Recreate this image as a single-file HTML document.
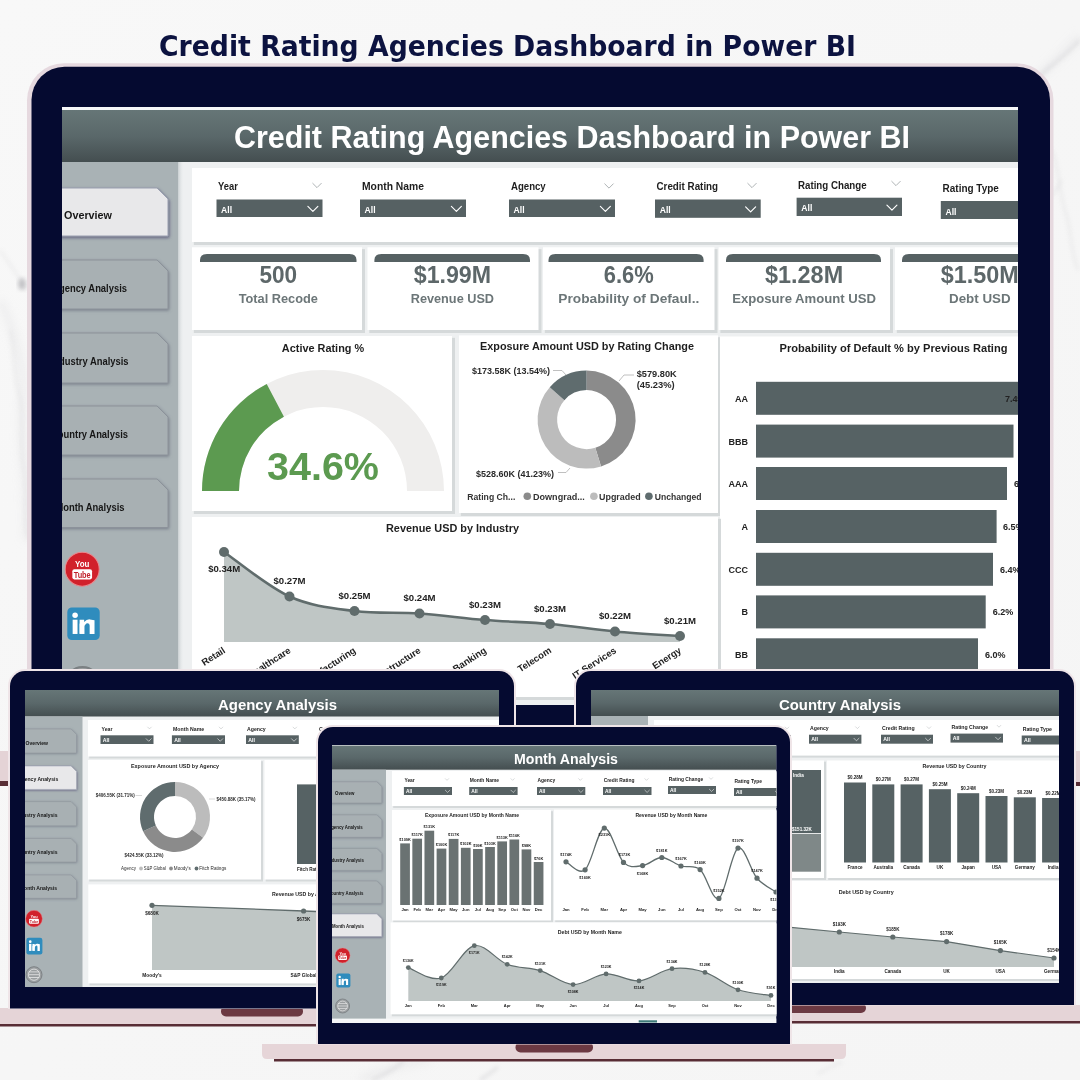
<!DOCTYPE html><html><head><meta charset="utf-8"><title>Credit Rating Agencies Dashboard in Power BI</title>
<style>html,body{margin:0;padding:0;background:#f4f4f5;}body{width:1080px;height:1080px;overflow:hidden;position:relative;}svg{display:block;will-change:transform;}</style></head><body>
<svg width="1080" height="1080" viewBox="0 0 1080 1080">
<defs>
<linearGradient id="hdr" x1="0" y1="0" x2="0" y2="1"><stop offset="0" stop-color="#667677"/><stop offset="0.5" stop-color="#5a686a"/><stop offset="1" stop-color="#444e50"/></linearGradient>
<linearGradient id="bg" x1="0" y1="0" x2="1" y2="1"><stop offset="0" stop-color="#f8f8f8"/><stop offset="0.5" stop-color="#f6f6f6"/><stop offset="1" stop-color="#f5f5f5"/></linearGradient>
<linearGradient id="sbsh" x1="0" y1="0" x2="1" y2="0"><stop offset="0" stop-color="#c9cfd1"/><stop offset="1" stop-color="#eef0f1" stop-opacity="0"/></linearGradient>
<filter id="bshA" x="-10%" y="-30%" width="130%" height="170%"><feDropShadow dx="1" dy="1.5" stdDeviation="1.8" flood-color="#4d4a70" flood-opacity="0.75"/></filter>
<filter id="bshI" x="-10%" y="-30%" width="130%" height="170%"><feDropShadow dx="0.8" dy="1.2" stdDeviation="1.6" flood-color="#5a6070" flood-opacity="0.6"/></filter>
<filter id="bshAs" x="-10%" y="-30%" width="130%" height="170%"><feDropShadow dx="0.5" dy="0.8" stdDeviation="0.9" flood-color="#4d4a70" flood-opacity="0.7"/></filter>
<filter id="bshIs" x="-10%" y="-30%" width="130%" height="170%"><feDropShadow dx="0.4" dy="0.6" stdDeviation="0.8" flood-color="#5a6070" flood-opacity="0.55"/></filter>
<filter id="blur2" x="-20%" y="-20%" width="140%" height="140%"><feGaussianBlur stdDeviation="2"/></filter>
<filter id="blur5" x="-20%" y="-20%" width="140%" height="140%"><feGaussianBlur stdDeviation="5"/></filter>
<clipPath id="cpMon"><rect x="62" y="107" width="956" height="598"/></clipPath>
<clipPath id="cpL"><rect x="25" y="690" width="474" height="297"/></clipPath>
<clipPath id="cpR"><rect x="591" y="690" width="468" height="293"/></clipPath>
<clipPath id="cpC"><rect x="332" y="745" width="444.5" height="278"/></clipPath>
</defs>
<rect x="0" y="0" width="1080" height="1080" fill="url(#bg)" />
<g filter="url(#blur2)" fill="none" stroke="#c4c4c7" stroke-width="1.1" opacity="0.55">
<path d="M0,250 C6,258 12,268 18,276 C22,282 24,286 26,290"/>
<path d="M10,330 C16,350 12,372 20,398 C26,420 18,446 24,470 C28,488 22,510 28,540"/>
<path d="M1080,40 C1072,48 1064,56 1056,62 C1050,67 1046,70 1040,76" stroke="#aeaeb3" stroke-width="1.5"/>
<path d="M1062,180 C1058,186 1056,190 1052,196" stroke="#c0c0c4" stroke-width="1.2"/>
<path d="M1052,150 C1060,170 1058,190 1066,214 C1072,232 1070,250 1078,270"/>
<path d="M404,1061 C396,1068 386,1074 372,1080" stroke="#a8a8ad" stroke-width="1.6"/>
<path d="M498,1067 C492,1072 486,1076 480,1080" stroke="#a8a8ad" stroke-width="1.6"/>
<path d="M818,1074 C826,1068 834,1066 842,1062"/>
</g>
<ellipse cx="22" cy="284" rx="4" ry="6" fill="#9c9ca2" opacity="0.55" filter="url(#blur2)"/>
<g filter="url(#blur5)" fill="none" stroke="#dadadd" stroke-width="5" opacity="0.5">
<path d="M0,300 C14,330 26,360 22,410 C20,450 30,490 26,540"/>
<path d="M1080,36 C1066,52 1052,64 1036,78"/>
<path d="M360,1080 C380,1070 400,1064 430,1060"/>
</g>
<text x="159" y="56" font-family="'DejaVu Sans', 'Liberation Sans', sans-serif" font-size="28.5" font-weight="bold" fill="#0c1340" text-anchor="start" textLength="697" lengthAdjust="spacingAndGlyphs" >Credit Rating Agencies Dashboard in Power BI</text>
<rect x="27" y="63.3" width="1026.5" height="696.7" fill="#e6d9df" rx="37" />
<rect x="31.5" y="66.8" width="1018.5" height="693.2" fill="#050a30" rx="33" />
<g clip-path="url(#cpMon)">
<rect x="62" y="107" width="956" height="598" fill="#eef0f1" />
<rect x="62" y="107" width="956" height="3" fill="#f7f8f9" />
<rect x="62" y="110" width="956" height="52" fill="url(#hdr)" />
<text x="572" y="147.5" font-family="'Liberation Sans', Arial, sans-serif" font-size="30.5" font-weight="bold" fill="#ffffff" text-anchor="middle" textLength="676" lengthAdjust="spacingAndGlyphs" >Credit Rating Agencies Dashboard in Power BI</text>
<rect x="62" y="162" width="116" height="543" fill="#a9b2b5" />
<rect x="178" y="162" width="6" height="543" fill="url(#sbsh)"/>
<polygon points="20,188 157,188 168,199 168,236 20,236" fill="#e8e8ea" stroke="#9a9fb0" stroke-width="1" filter="url(#bshA)"/>
<text x="64" y="219.3" font-family="'Liberation Sans', Arial, sans-serif" font-size="10.8" font-weight="bold" fill="#161616" text-anchor="start" textLength="48.03" lengthAdjust="spacingAndGlyphs" >Overview</text>
<polygon points="20,260 157,260 168,271 168,309 20,309" fill="#a8b0b3" stroke="#8c929a" stroke-width="1" filter="url(#bshI)"/>
<text x="127" y="291.8" font-family="'Liberation Sans', Arial, sans-serif" font-size="10.8" font-weight="bold" fill="#161616" text-anchor="end" textLength="74.85" lengthAdjust="spacingAndGlyphs" >Agency Analysis</text>
<polygon points="20,333 157,333 168,344 168,383 20,383" fill="#a8b0b3" stroke="#8c929a" stroke-width="1" filter="url(#bshI)"/>
<text x="128.6" y="365.3" font-family="'Liberation Sans', Arial, sans-serif" font-size="10.8" font-weight="bold" fill="#161616" text-anchor="end" textLength="77.97" lengthAdjust="spacingAndGlyphs" >Industry Analysis</text>
<polygon points="20,406 157,406 168,417 168,455 20,455" fill="#a8b0b3" stroke="#8c929a" stroke-width="1" filter="url(#bshI)"/>
<text x="128" y="437.8" font-family="'Liberation Sans', Arial, sans-serif" font-size="10.8" font-weight="bold" fill="#161616" text-anchor="end" textLength="76.92" lengthAdjust="spacingAndGlyphs" >Country Analysis</text>
<polygon points="20,479 157,479 168,490 168,527.5 20,527.5" fill="#a8b0b3" stroke="#8c929a" stroke-width="1" filter="url(#bshI)"/>
<text x="124.5" y="510.55" font-family="'Liberation Sans', Arial, sans-serif" font-size="10.8" font-weight="bold" fill="#161616" text-anchor="end" textLength="69.08" lengthAdjust="spacingAndGlyphs" >Month Analysis</text>
<circle cx="82.2" cy="569.2" r="17" fill="#d1212b" stroke="#e98a8f" stroke-width="1.02"/>
<text x="82.2" y="567.16" font-family="'Liberation Sans', Arial, sans-serif" font-size="8.84" font-weight="bold" fill="#ffffff" text-anchor="middle" textLength="14.45" lengthAdjust="spacingAndGlyphs" >You</text>
<rect x="72.34" y="569.2" width="19.72" height="10.2" fill="#ffffff" rx="2.04" />
<text x="82.2" y="577.7" font-family="'Liberation Sans', Arial, sans-serif" font-size="8.5" font-weight="bold" fill="#c0202a" text-anchor="middle" textLength="17" lengthAdjust="spacingAndGlyphs" >Tube</text>
<rect x="67.3" y="607.4" width="32.4" height="32.6" fill="#2f8cbd" rx="4.54" />
<circle cx="75.08" cy="615.18" r="2.75" fill="#ffffff"/>
<rect x="72.65" y="619.71" width="4.86" height="14.26" fill="#ffffff" />
<path d="M79.61,633.97 L79.61,619.71 L84.15,619.71 L84.15,621.98 Q86.74,619.06 89.98,619.39 L94.52,620.36 L94.52,633.97 L89.66,633.97 L89.66,625.54 Q89.66,622.95 86.74,623.28 L84.47,625.54 Z" fill="#ffffff"/>
<rect x="79.61" y="623.6" width="4.86" height="10.37" fill="#ffffff" />
<circle cx="82.5" cy="684" r="17" fill="#9a9ea0" stroke="#7b8083" stroke-width="2.04"/>
<circle cx="82.5" cy="684" r="11.9" fill="none" stroke="#e8e8e8" stroke-width="1.7"/>
<line x1="71.45" y1="678.05" x2="93.55" y2="678.05" stroke="#e8e8e8" stroke-width="1.7"/>
<line x1="71.45" y1="684" x2="93.55" y2="684" stroke="#e8e8e8" stroke-width="1.7"/>
<line x1="71.45" y1="689.95" x2="93.55" y2="689.95" stroke="#e8e8e8" stroke-width="1.7"/>
<rect x="193.8" y="169.8" width="839.2" height="75.2" fill="#d5d9da" />
<rect x="192" y="168" width="838" height="74" fill="#ffffff" />
<rect x="216.5" y="199.5" width="106" height="17.5" fill="#566163" />
<text x="221.05" y="212.62" font-family="'Liberation Sans', Arial, sans-serif" font-size="9.8" font-weight="bold" fill="#ffffff" text-anchor="start" textLength="11" lengthAdjust="spacingAndGlyphs" >All</text>
<polyline points="307.88,206.45 312.88,211.45 317.88,206.45" fill="none" stroke="#ffffff" stroke-width="1.14" stroke-linecap="round" stroke-linejoin="round"/>
<text x="218" y="189.6" font-family="'Liberation Sans', Arial, sans-serif" font-size="10.3" font-weight="bold" fill="#1e1e1e" text-anchor="start" textLength="19.8" lengthAdjust="spacingAndGlyphs" >Year</text>
<polyline points="312.75,183.38 317,187.62 321.25,183.38" fill="none" stroke="#a9aeb0" stroke-width="0.94" stroke-linecap="round" stroke-linejoin="round"/>
<rect x="360" y="199.5" width="106" height="17.5" fill="#566163" />
<text x="364.55" y="212.62" font-family="'Liberation Sans', Arial, sans-serif" font-size="9.8" font-weight="bold" fill="#ffffff" text-anchor="start" textLength="11" lengthAdjust="spacingAndGlyphs" >All</text>
<polyline points="451.38,206.45 456.38,211.45 461.38,206.45" fill="none" stroke="#ffffff" stroke-width="1.14" stroke-linecap="round" stroke-linejoin="round"/>
<text x="362" y="189.6" font-family="'Liberation Sans', Arial, sans-serif" font-size="10.3" font-weight="bold" fill="#1e1e1e" text-anchor="start" textLength="62" lengthAdjust="spacingAndGlyphs" >Month Name</text>
<rect x="509" y="199.5" width="106" height="17.5" fill="#566163" />
<text x="513.55" y="212.62" font-family="'Liberation Sans', Arial, sans-serif" font-size="9.8" font-weight="bold" fill="#ffffff" text-anchor="start" textLength="11" lengthAdjust="spacingAndGlyphs" >All</text>
<polyline points="600.38,206.45 605.38,211.45 610.38,206.45" fill="none" stroke="#ffffff" stroke-width="1.14" stroke-linecap="round" stroke-linejoin="round"/>
<text x="511" y="189.6" font-family="'Liberation Sans', Arial, sans-serif" font-size="10.3" font-weight="bold" fill="#1e1e1e" text-anchor="start" textLength="34.7" lengthAdjust="spacingAndGlyphs" >Agency</text>
<polyline points="604.75,183.88 609,188.12 613.25,183.88" fill="none" stroke="#a9aeb0" stroke-width="0.94" stroke-linecap="round" stroke-linejoin="round"/>
<rect x="655" y="199.5" width="105.7" height="18.3" fill="#566163" />
<text x="659.76" y="213.23" font-family="'Liberation Sans', Arial, sans-serif" font-size="9.8" font-weight="bold" fill="#ffffff" text-anchor="start" textLength="11" lengthAdjust="spacingAndGlyphs" >All</text>
<polyline points="745.63,206.88 750.63,211.88 755.63,206.88" fill="none" stroke="#ffffff" stroke-width="1.19" stroke-linecap="round" stroke-linejoin="round"/>
<text x="656.5" y="189.8" font-family="'Liberation Sans', Arial, sans-serif" font-size="10.3" font-weight="bold" fill="#1e1e1e" text-anchor="start" textLength="61.6" lengthAdjust="spacingAndGlyphs" >Credit Rating</text>
<polyline points="747.75,183.38 752,187.62 756.25,183.38" fill="none" stroke="#a9aeb0" stroke-width="0.94" stroke-linecap="round" stroke-linejoin="round"/>
<rect x="796.6" y="197.7" width="105.4" height="18.3" fill="#566163" />
<text x="801.36" y="211.43" font-family="'Liberation Sans', Arial, sans-serif" font-size="9.8" font-weight="bold" fill="#ffffff" text-anchor="start" textLength="11" lengthAdjust="spacingAndGlyphs" >All</text>
<polyline points="886.93,205.08 891.93,210.08 896.93,205.08" fill="none" stroke="#ffffff" stroke-width="1.19" stroke-linecap="round" stroke-linejoin="round"/>
<text x="798" y="188.5" font-family="'Liberation Sans', Arial, sans-serif" font-size="10.3" font-weight="bold" fill="#1e1e1e" text-anchor="start" textLength="68.6" lengthAdjust="spacingAndGlyphs" >Rating Change</text>
<polyline points="891.75,181.38 896,185.62 900.25,181.38" fill="none" stroke="#a9aeb0" stroke-width="0.94" stroke-linecap="round" stroke-linejoin="round"/>
<rect x="940.8" y="201" width="119.2" height="18" fill="#566163" />
<text x="945.48" y="214.5" font-family="'Liberation Sans', Arial, sans-serif" font-size="9.8" font-weight="bold" fill="#ffffff" text-anchor="start" textLength="11" lengthAdjust="spacingAndGlyphs" >All</text>
<polyline points="1045.1,208.22 1050.1,213.22 1055.1,208.22" fill="none" stroke="#ffffff" stroke-width="1.17" stroke-linecap="round" stroke-linejoin="round"/>
<text x="942.6" y="192.3" font-family="'Liberation Sans', Arial, sans-serif" font-size="10.3" font-weight="bold" fill="#1e1e1e" text-anchor="start" textLength="56.3" lengthAdjust="spacingAndGlyphs" >Rating Type</text>
<rect x="193.8" y="249.1" width="171.2" height="83.9" fill="#d5d9da" />
<rect x="192" y="247.3" width="170" height="82.7" fill="#ffffff" />
<path d="M200,262 L200,260 Q200,254 207,254 L349.5,254 Q356.5,254 356.5,260 L356.5,262 Z" fill="#566163"/>
<text x="278.3" y="283.3" font-family="'Liberation Sans', Arial, sans-serif" font-size="23" font-weight="bold" fill="#5d6769" text-anchor="middle" textLength="37.7" lengthAdjust="spacingAndGlyphs" >500</text>
<text x="278.3" y="303.3" font-family="'Liberation Sans', Arial, sans-serif" font-size="13.6" font-weight="bold" fill="#6c7678" text-anchor="middle" textLength="79.3" lengthAdjust="spacingAndGlyphs" >Total Recode</text>
<rect x="369.3" y="249.1" width="172.2" height="83.9" fill="#d5d9da" />
<rect x="367.5" y="247.3" width="171" height="82.7" fill="#ffffff" />
<path d="M374.4,262 L374.4,260 Q374.4,254 381.4,254 L523,254 Q530,254 530,260 L530,262 Z" fill="#566163"/>
<text x="452.4" y="283.3" font-family="'Liberation Sans', Arial, sans-serif" font-size="23" font-weight="bold" fill="#5d6769" text-anchor="middle" textLength="77.3" lengthAdjust="spacingAndGlyphs" >$1.99M</text>
<text x="452.4" y="303.3" font-family="'Liberation Sans', Arial, sans-serif" font-size="13.6" font-weight="bold" fill="#6c7678" text-anchor="middle" textLength="83.3" lengthAdjust="spacingAndGlyphs" >Revenue USD</text>
<rect x="544.8" y="249.1" width="172.7" height="83.9" fill="#d5d9da" />
<rect x="543" y="247.3" width="171.5" height="82.7" fill="#ffffff" />
<path d="M548.5,262 L548.5,260 Q548.5,254 555.5,254 L696.6,254 Q703.6,254 703.6,260 L703.6,262 Z" fill="#566163"/>
<text x="628.8" y="283.3" font-family="'Liberation Sans', Arial, sans-serif" font-size="23" font-weight="bold" fill="#5d6769" text-anchor="middle" textLength="50" lengthAdjust="spacingAndGlyphs" >6.6%</text>
<text x="628.8" y="303.3" font-family="'Liberation Sans', Arial, sans-serif" font-size="13.6" font-weight="bold" fill="#6c7678" text-anchor="middle" textLength="141" lengthAdjust="spacingAndGlyphs" >Probability of Defaul..</text>
<rect x="720.4" y="249.1" width="172.6" height="83.9" fill="#d5d9da" />
<rect x="718.6" y="247.3" width="171.4" height="82.7" fill="#ffffff" />
<path d="M726,262 L726,260 Q726,254 733,254 L874,254 Q881,254 881,260 L881,262 Z" fill="#566163"/>
<text x="804.1" y="283.3" font-family="'Liberation Sans', Arial, sans-serif" font-size="23" font-weight="bold" fill="#5d6769" text-anchor="middle" textLength="78.1" lengthAdjust="spacingAndGlyphs" >$1.28M</text>
<text x="804.1" y="303.3" font-family="'Liberation Sans', Arial, sans-serif" font-size="13.6" font-weight="bold" fill="#6c7678" text-anchor="middle" textLength="143.9" lengthAdjust="spacingAndGlyphs" >Exposure Amount USD</text>
<rect x="896.8" y="249.1" width="172.2" height="83.9" fill="#d5d9da" />
<rect x="895" y="247.3" width="171" height="82.7" fill="#ffffff" />
<path d="M902,262 L902,260 Q902,254 909,254 L1053,254 Q1060,254 1060,260 L1060,262 Z" fill="#566163"/>
<text x="979.8" y="283.3" font-family="'Liberation Sans', Arial, sans-serif" font-size="23" font-weight="bold" fill="#5d6769" text-anchor="middle" textLength="78.1" lengthAdjust="spacingAndGlyphs" >$1.50M</text>
<text x="979.8" y="303.3" font-family="'Liberation Sans', Arial, sans-serif" font-size="13.6" font-weight="bold" fill="#6c7678" text-anchor="middle" textLength="61.6" lengthAdjust="spacingAndGlyphs" >Debt USD</text>
<rect x="193.8" y="337.8" width="261.2" height="176.2" fill="#d5d9da" />
<rect x="192" y="336" width="260" height="175" fill="#ffffff" />
<text x="323" y="352" font-family="'Liberation Sans', Arial, sans-serif" font-size="10.9" font-weight="bold" fill="#1e1e1e" text-anchor="middle" >Active Rating %</text>
<path d="M202,491 A121,121 0 0 1 444,491 L407,491 A84,84 0 0 0 239,491 Z" fill="#efeeed"/>
<path d="M202,491 A121,121 0 0 1 266.72,383.89 L283.93,416.64 A84,84 0 0 0 239,491 Z" fill="#5c9a50"/>
<text x="323" y="480" font-family="'Liberation Sans', Arial, sans-serif" font-size="39" font-weight="bold" fill="#5c9a50" text-anchor="middle" textLength="112" lengthAdjust="spacingAndGlyphs" >34.6%</text>
<rect x="460.8" y="337.2" width="260.2" height="178.8" fill="#d5d9da" />
<rect x="459" y="335.4" width="259" height="177.6" fill="#ffffff" />
<text x="587" y="349.5" font-family="'Liberation Sans', Arial, sans-serif" font-size="11" font-weight="bold" fill="#1e1e1e" text-anchor="middle" textLength="214" lengthAdjust="spacingAndGlyphs" >Exposure Amount USD by Rating Change</text>
<path d="M586.6,370.6 A49,49 0 0 1 601.07,466.42 L595.31,447.78 A29.5,29.5 0 0 0 586.6,390.1 Z" fill="#8b8b8b"/>
<path d="M601.07,466.42 A49,49 0 0 1 549.76,387.29 L564.42,400.15 A29.5,29.5 0 0 0 595.31,447.78 Z" fill="#bcbcbc"/>
<path d="M549.76,387.29 A49,49 0 0 1 586.6,370.6 L586.6,390.1 A29.5,29.5 0 0 0 564.42,400.15 Z" fill="#5f6c6e"/>
<polyline points="553,370.5 562,370.5 566,375" fill="none" stroke="#b0b0b0" stroke-width="0.8"/>
<polyline points="634,375 624,375 619,381" fill="none" stroke="#b0b0b0" stroke-width="0.8"/>
<polyline points="558,472.5 566,472.5 570,468" fill="none" stroke="#b0b0b0" stroke-width="0.8"/>
<text x="472" y="373.8" font-family="'Liberation Sans', Arial, sans-serif" font-size="9" font-weight="bold" fill="#2a2a2a" text-anchor="start" textLength="78" lengthAdjust="spacingAndGlyphs" >$173.58K (13.54%)</text>
<text x="636.7" y="376.5" font-family="'Liberation Sans', Arial, sans-serif" font-size="9" font-weight="bold" fill="#2a2a2a" text-anchor="start" textLength="40" lengthAdjust="spacingAndGlyphs" >$579.80K</text>
<text x="636.7" y="387.8" font-family="'Liberation Sans', Arial, sans-serif" font-size="9" font-weight="bold" fill="#2a2a2a" text-anchor="start" textLength="38" lengthAdjust="spacingAndGlyphs" >(45.23%)</text>
<text x="476" y="476.5" font-family="'Liberation Sans', Arial, sans-serif" font-size="9" font-weight="bold" fill="#2a2a2a" text-anchor="start" textLength="78" lengthAdjust="spacingAndGlyphs" >$528.60K (41.23%)</text>
<text x="467.3" y="499.5" font-family="'Liberation Sans', Arial, sans-serif" font-size="9" font-weight="bold" fill="#333" text-anchor="start" textLength="48" lengthAdjust="spacingAndGlyphs" >Rating Ch...</text>
<circle cx="527.3" cy="496.3" r="3.8" fill="#8b8b8b"/>
<text x="533" y="499.5" font-family="'Liberation Sans', Arial, sans-serif" font-size="9" font-weight="bold" fill="#333" text-anchor="start" textLength="51.8" lengthAdjust="spacingAndGlyphs" >Downgrad...</text>
<circle cx="593.9" cy="496.3" r="3.8" fill="#bcbcbc"/>
<text x="599" y="499.5" font-family="'Liberation Sans', Arial, sans-serif" font-size="9" font-weight="bold" fill="#333" text-anchor="start" textLength="41.6" lengthAdjust="spacingAndGlyphs" >Upgraded</text>
<circle cx="648.9" cy="496.3" r="3.8" fill="#5f6c6e"/>
<text x="654.8" y="499.5" font-family="'Liberation Sans', Arial, sans-serif" font-size="9" font-weight="bold" fill="#333" text-anchor="start" textLength="46.7" lengthAdjust="spacingAndGlyphs" >Unchanged</text>
<rect x="721.8" y="338.3" width="321.2" height="384.7" fill="#d5d9da" />
<rect x="720" y="336.5" width="320" height="383.5" fill="#ffffff" />
<text x="893.5" y="352" font-family="'Liberation Sans', Arial, sans-serif" font-size="11" font-weight="bold" fill="#1e1e1e" text-anchor="middle" textLength="228" lengthAdjust="spacingAndGlyphs" >Probability of Default % by Previous Rating</text>
<rect x="756" y="381.8" width="284" height="33" fill="#566264" />
<text x="748" y="401.8" font-family="'Liberation Sans', Arial, sans-serif" font-size="9" font-weight="bold" fill="#222" text-anchor="end" >AA</text>
<text x="1005" y="401.8" font-family="'Liberation Sans', Arial, sans-serif" font-size="9" font-weight="bold" fill="#222" text-anchor="start" >7.4%</text>
<rect x="756" y="424.6" width="257.5" height="33" fill="#566264" />
<text x="748" y="444.6" font-family="'Liberation Sans', Arial, sans-serif" font-size="9" font-weight="bold" fill="#222" text-anchor="end" >BBB</text>
<text x="1020" y="444.6" font-family="'Liberation Sans', Arial, sans-serif" font-size="9" font-weight="bold" fill="#222" text-anchor="start" >7.3%</text>
<rect x="756" y="467" width="251" height="33" fill="#566264" />
<text x="748" y="487" font-family="'Liberation Sans', Arial, sans-serif" font-size="9" font-weight="bold" fill="#222" text-anchor="end" >AAA</text>
<text x="1014" y="487" font-family="'Liberation Sans', Arial, sans-serif" font-size="9" font-weight="bold" fill="#222" text-anchor="start" >6.9%</text>
<rect x="756" y="510" width="240.6" height="33" fill="#566264" />
<text x="748" y="530" font-family="'Liberation Sans', Arial, sans-serif" font-size="9" font-weight="bold" fill="#222" text-anchor="end" >A</text>
<text x="1003" y="530" font-family="'Liberation Sans', Arial, sans-serif" font-size="9" font-weight="bold" fill="#222" text-anchor="start" >6.5%</text>
<rect x="756" y="552.8" width="237" height="33" fill="#566264" />
<text x="748" y="572.8" font-family="'Liberation Sans', Arial, sans-serif" font-size="9" font-weight="bold" fill="#222" text-anchor="end" >CCC</text>
<text x="1000" y="572.8" font-family="'Liberation Sans', Arial, sans-serif" font-size="9" font-weight="bold" fill="#222" text-anchor="start" >6.4%</text>
<rect x="756" y="595.4" width="229.7" height="33" fill="#566264" />
<text x="748" y="615.4" font-family="'Liberation Sans', Arial, sans-serif" font-size="9" font-weight="bold" fill="#222" text-anchor="end" >B</text>
<text x="992.7" y="615.4" font-family="'Liberation Sans', Arial, sans-serif" font-size="9" font-weight="bold" fill="#222" text-anchor="start" >6.2%</text>
<rect x="756" y="638.3" width="222" height="33" fill="#566264" />
<text x="748" y="658.3" font-family="'Liberation Sans', Arial, sans-serif" font-size="9" font-weight="bold" fill="#222" text-anchor="end" >BB</text>
<text x="985" y="658.3" font-family="'Liberation Sans', Arial, sans-serif" font-size="9" font-weight="bold" fill="#222" text-anchor="start" >6.0%</text>
<rect x="193.8" y="518.8" width="527.2" height="181.2" fill="#d5d9da" />
<rect x="192" y="517" width="526" height="180" fill="#ffffff" />
<text x="452.5" y="531.5" font-family="'Liberation Sans', Arial, sans-serif" font-size="11" font-weight="bold" fill="#1e1e1e" text-anchor="middle" textLength="133" lengthAdjust="spacingAndGlyphs" >Revenue USD by Industry</text>
<path d="M224,552 C234.92,559.42 267.75,586.67 289.5,596.5 C311.25,606.33 332.83,608.17 354.5,611 C376.17,613.83 397.75,612 419.5,613.5 C441.25,615 463.25,618.25 485,620 C506.75,621.75 528.33,622.08 550,624 C571.67,625.92 593.33,629.5 615,631.5 C636.67,633.5 669.17,635.25 680,636 L680,642 L224,642 Z" fill="#bfc6c5"/>
<path d="M224,552 C234.92,559.42 267.75,586.67 289.5,596.5 C311.25,606.33 332.83,608.17 354.5,611 C376.17,613.83 397.75,612 419.5,613.5 C441.25,615 463.25,618.25 485,620 C506.75,621.75 528.33,622.08 550,624 C571.67,625.92 593.33,629.5 615,631.5 C636.67,633.5 669.17,635.25 680,636" fill="none" stroke="#606c6c" stroke-width="2.6" stroke-linejoin="round"/>
<circle cx="224" cy="552" r="5" fill="#606c6c"/>
<circle cx="289.5" cy="596.5" r="5" fill="#606c6c"/>
<circle cx="354.5" cy="611" r="5" fill="#606c6c"/>
<circle cx="419.5" cy="613.5" r="5" fill="#606c6c"/>
<circle cx="485" cy="620" r="5" fill="#606c6c"/>
<circle cx="550" cy="624" r="5" fill="#606c6c"/>
<circle cx="615" cy="631.5" r="5" fill="#606c6c"/>
<circle cx="680" cy="636" r="5" fill="#606c6c"/>
<text x="224.2" y="571.5" font-family="'Liberation Sans', Arial, sans-serif" font-size="9.5" font-weight="bold" fill="#222" text-anchor="middle" textLength="32" lengthAdjust="spacingAndGlyphs" >$0.34M</text>
<text x="226" y="652" font-family="'Liberation Sans', Arial, sans-serif" font-size="9.5" font-weight="bold" fill="#222" text-anchor="end" transform="rotate(-33 226 652)">Retail</text>
<text x="289.5" y="584" font-family="'Liberation Sans', Arial, sans-serif" font-size="9.5" font-weight="bold" fill="#222" text-anchor="middle" textLength="32" lengthAdjust="spacingAndGlyphs" >$0.27M</text>
<text x="291.5" y="652" font-family="'Liberation Sans', Arial, sans-serif" font-size="9.5" font-weight="bold" fill="#222" text-anchor="end" transform="rotate(-33 291.5 652)">Healthcare</text>
<text x="354.5" y="599" font-family="'Liberation Sans', Arial, sans-serif" font-size="9.5" font-weight="bold" fill="#222" text-anchor="middle" textLength="32" lengthAdjust="spacingAndGlyphs" >$0.25M</text>
<text x="356.5" y="652" font-family="'Liberation Sans', Arial, sans-serif" font-size="9.5" font-weight="bold" fill="#222" text-anchor="end" transform="rotate(-33 356.5 652)">Manufacturing</text>
<text x="419.5" y="601" font-family="'Liberation Sans', Arial, sans-serif" font-size="9.5" font-weight="bold" fill="#222" text-anchor="middle" textLength="32" lengthAdjust="spacingAndGlyphs" >$0.24M</text>
<text x="421.5" y="652" font-family="'Liberation Sans', Arial, sans-serif" font-size="9.5" font-weight="bold" fill="#222" text-anchor="end" transform="rotate(-33 421.5 652)">Infrastructure</text>
<text x="485" y="608" font-family="'Liberation Sans', Arial, sans-serif" font-size="9.5" font-weight="bold" fill="#222" text-anchor="middle" textLength="32" lengthAdjust="spacingAndGlyphs" >$0.23M</text>
<text x="487" y="652" font-family="'Liberation Sans', Arial, sans-serif" font-size="9.5" font-weight="bold" fill="#222" text-anchor="end" transform="rotate(-33 487 652)">Banking</text>
<text x="550" y="612" font-family="'Liberation Sans', Arial, sans-serif" font-size="9.5" font-weight="bold" fill="#222" text-anchor="middle" textLength="32" lengthAdjust="spacingAndGlyphs" >$0.23M</text>
<text x="552" y="652" font-family="'Liberation Sans', Arial, sans-serif" font-size="9.5" font-weight="bold" fill="#222" text-anchor="end" transform="rotate(-33 552 652)">Telecom</text>
<text x="615" y="619" font-family="'Liberation Sans', Arial, sans-serif" font-size="9.5" font-weight="bold" fill="#222" text-anchor="middle" textLength="32" lengthAdjust="spacingAndGlyphs" >$0.22M</text>
<text x="617" y="652" font-family="'Liberation Sans', Arial, sans-serif" font-size="9.5" font-weight="bold" fill="#222" text-anchor="end" transform="rotate(-33 617 652)">IT Services</text>
<text x="680" y="624" font-family="'Liberation Sans', Arial, sans-serif" font-size="9.5" font-weight="bold" fill="#222" text-anchor="middle" textLength="32" lengthAdjust="spacingAndGlyphs" >$0.21M</text>
<text x="682" y="652" font-family="'Liberation Sans', Arial, sans-serif" font-size="9.5" font-weight="bold" fill="#222" text-anchor="end" transform="rotate(-33 682 652)">Energy</text>
</g>
<rect x="0" y="751" width="9" height="30" fill="#e4d3d6" />
<rect x="0" y="781" width="9" height="5" fill="#582d35" />
<rect x="1072" y="751" width="8" height="31" fill="#e4d3d6" />
<rect x="1072" y="782" width="8" height="4" fill="#582d35" />
<rect x="0" y="1008" width="560" height="16" fill="#e5d4d7" />
<rect x="0" y="1024" width="560" height="2.5" fill="#582d35" />
<rect x="221" y="1006" width="82" height="10.5" fill="#6c3942" rx="5" />
<rect x="560" y="1005" width="520" height="16" fill="#e5d4d7" />
<rect x="560" y="1021" width="520" height="2.5" fill="#582d35" />
<rect x="784" y="1003" width="82" height="10" fill="#6c3942" rx="5" />
<path d="M8,686 L8,1009.1 L516,1009.1 L516,686 A17,17 0 0 0 499,669 L25,669 A17,17 0 0 0 8,686 Z" fill="#efe5e8"/>
<path d="M10,686 L10,1008.6 L514,1008.6 L514,686 A15,15 0 0 0 499,671 L25,671 A15,15 0 0 0 10,686 Z" fill="#050a30"/>
<g clip-path="url(#cpL)">
<rect x="25" y="690" width="474" height="297" fill="#eef0f1" />
<rect x="25" y="690" width="474" height="26.5" fill="url(#hdr)" />
<text x="277.5" y="710" font-family="'Liberation Sans', Arial, sans-serif" font-size="15.5" font-weight="bold" fill="#ffffff" text-anchor="middle" textLength="119" lengthAdjust="spacingAndGlyphs" >Agency Analysis</text>
<rect x="25" y="716.5" width="57.5" height="270.5" fill="#a9b2b5" />
<polygon points="-15,729 71,729 76.5,734.5 76.5,753 -15,753" fill="#a8b0b3" stroke="#8c929a" stroke-width="0.5" filter="url(#bshIs)"/>
<text x="25.6" y="744.71" font-family="'Liberation Sans', Arial, sans-serif" font-size="5.8" font-weight="bold" fill="#161616" text-anchor="start" textLength="22.44" lengthAdjust="spacingAndGlyphs" >Overview</text>
<polygon points="-15,766 71,766 76.5,771.5 76.5,789.4 -15,789.4" fill="#e8e8ea" stroke="#9a9fb0" stroke-width="0.5" filter="url(#bshAs)"/>
<text x="58.2" y="781.41" font-family="'Liberation Sans', Arial, sans-serif" font-size="5.8" font-weight="bold" fill="#161616" text-anchor="end" textLength="40.2" lengthAdjust="spacingAndGlyphs" >Agency Analysis</text>
<polygon points="-15,801.6 71,801.6 76.5,807.1 76.5,825.8 -15,825.8" fill="#a8b0b3" stroke="#8c929a" stroke-width="0.5" filter="url(#bshIs)"/>
<text x="57.5" y="817.41" font-family="'Liberation Sans', Arial, sans-serif" font-size="5.8" font-weight="bold" fill="#161616" text-anchor="end" textLength="41.87" lengthAdjust="spacingAndGlyphs" >Industry Analysis</text>
<polygon points="-15,838.5 71,838.5 76.5,844 76.5,862 -15,862" fill="#a8b0b3" stroke="#8c929a" stroke-width="0.5" filter="url(#bshIs)"/>
<text x="57.5" y="853.96" font-family="'Liberation Sans', Arial, sans-serif" font-size="5.8" font-weight="bold" fill="#161616" text-anchor="end" textLength="41.31" lengthAdjust="spacingAndGlyphs" >Country Analysis</text>
<polygon points="-15,875 71,875 76.5,880.5 76.5,898.3 -15,898.3" fill="#a8b0b3" stroke="#8c929a" stroke-width="0.5" filter="url(#bshIs)"/>
<text x="57" y="890.36" font-family="'Liberation Sans', Arial, sans-serif" font-size="5.8" font-weight="bold" fill="#161616" text-anchor="end" textLength="37.1" lengthAdjust="spacingAndGlyphs" >Month Analysis</text>
<circle cx="34" cy="918.7" r="8.4" fill="#d1212b" stroke="#e98a8f" stroke-width="0.5"/>
<text x="34" y="917.69" font-family="'Liberation Sans', Arial, sans-serif" font-size="4.37" font-weight="bold" fill="#ffffff" text-anchor="middle" textLength="7.14" lengthAdjust="spacingAndGlyphs" >You</text>
<rect x="29.13" y="918.7" width="9.74" height="5.04" fill="#ffffff" rx="1.01" />
<text x="34" y="922.9" font-family="'Liberation Sans', Arial, sans-serif" font-size="4.2" font-weight="bold" fill="#c0202a" text-anchor="middle" textLength="8.4" lengthAdjust="spacingAndGlyphs" >Tube</text>
<rect x="26.4" y="937.8" width="16" height="16.6" fill="#2f8cbd" rx="2.24" />
<circle cx="30.24" cy="941.64" r="1.36" fill="#ffffff"/>
<rect x="29.04" y="943.88" width="2.4" height="7.04" fill="#ffffff" />
<path d="M32.48,950.92 L32.48,943.88 L34.72,943.88 L34.72,945 Q36,943.56 37.6,943.72 L39.84,944.2 L39.84,950.92 L37.44,950.92 L37.44,946.76 Q37.44,945.48 36,945.64 L34.88,946.76 Z" fill="#ffffff"/>
<rect x="32.48" y="945.8" width="2.4" height="5.12" fill="#ffffff" />
<circle cx="34" cy="974.7" r="8" fill="#9a9ea0" stroke="#7b8083" stroke-width="0.96"/>
<circle cx="34" cy="974.7" r="5.6" fill="none" stroke="#e8e8e8" stroke-width="0.8"/>
<line x1="28.8" y1="971.9" x2="39.2" y2="971.9" stroke="#e8e8e8" stroke-width="0.8"/>
<line x1="28.8" y1="974.7" x2="39.2" y2="974.7" stroke="#e8e8e8" stroke-width="0.8"/>
<line x1="28.8" y1="977.5" x2="39.2" y2="977.5" stroke="#e8e8e8" stroke-width="0.8"/>
<rect x="89.2" y="721.2" width="432.8" height="37.3" fill="#d5d9da" />
<rect x="88" y="720" width="432" height="36.5" fill="#ffffff" />
<rect x="100.5" y="735.3" width="53" height="8.7" fill="#566163" />
<text x="102.76" y="741.83" font-family="'Liberation Sans', Arial, sans-serif" font-size="5.2" font-weight="bold" fill="#ffffff" text-anchor="start" >All</text>
<polyline points="146.21,738.75 148.71,741.25 151.21,738.75" fill="none" stroke="#ffffff" stroke-width="0.57" stroke-linecap="round" stroke-linejoin="round"/>
<text x="101.5" y="730.5" font-family="'Liberation Sans', Arial, sans-serif" font-size="5.2" font-weight="bold" fill="#1e1e1e" text-anchor="start" >Year</text>
<polyline points="147.7,727.1 149.5,728.9 151.3,727.1" fill="none" stroke="#a9aeb0" stroke-width="0.45" stroke-linecap="round" stroke-linejoin="round"/>
<rect x="171.9" y="735.3" width="53.1" height="8.7" fill="#566163" />
<text x="174.16" y="741.83" font-family="'Liberation Sans', Arial, sans-serif" font-size="5.2" font-weight="bold" fill="#ffffff" text-anchor="start" >All</text>
<polyline points="217.71,738.75 220.21,741.25 222.71,738.75" fill="none" stroke="#ffffff" stroke-width="0.57" stroke-linecap="round" stroke-linejoin="round"/>
<text x="173" y="730.5" font-family="'Liberation Sans', Arial, sans-serif" font-size="5.2" font-weight="bold" fill="#1e1e1e" text-anchor="start" >Month Name</text>
<polyline points="219.2,727.1 221,728.9 222.8,727.1" fill="none" stroke="#a9aeb0" stroke-width="0.45" stroke-linecap="round" stroke-linejoin="round"/>
<rect x="246" y="735.3" width="52.8" height="8.7" fill="#566163" />
<text x="248.26" y="741.83" font-family="'Liberation Sans', Arial, sans-serif" font-size="5.2" font-weight="bold" fill="#ffffff" text-anchor="start" >All</text>
<polyline points="291.51,738.75 294.01,741.25 296.51,738.75" fill="none" stroke="#ffffff" stroke-width="0.57" stroke-linecap="round" stroke-linejoin="round"/>
<text x="247" y="730.5" font-family="'Liberation Sans', Arial, sans-serif" font-size="5.2" font-weight="bold" fill="#1e1e1e" text-anchor="start" >Agency</text>
<polyline points="293,727.1 294.8,728.9 296.6,727.1" fill="none" stroke="#a9aeb0" stroke-width="0.45" stroke-linecap="round" stroke-linejoin="round"/>
<rect x="318" y="735.3" width="53" height="8.7" fill="#566163" />
<text x="320.26" y="741.83" font-family="'Liberation Sans', Arial, sans-serif" font-size="5.2" font-weight="bold" fill="#ffffff" text-anchor="start" >All</text>
<polyline points="363.71,738.75 366.21,741.25 368.71,738.75" fill="none" stroke="#ffffff" stroke-width="0.57" stroke-linecap="round" stroke-linejoin="round"/>
<text x="319" y="730.5" font-family="'Liberation Sans', Arial, sans-serif" font-size="5.2" font-weight="bold" fill="#1e1e1e" text-anchor="start" >Credit Rating</text>
<polyline points="365.2,727.1 367,728.9 368.8,727.1" fill="none" stroke="#a9aeb0" stroke-width="0.45" stroke-linecap="round" stroke-linejoin="round"/>
<rect x="389" y="735.3" width="53" height="8.7" fill="#566163" />
<text x="391.26" y="741.83" font-family="'Liberation Sans', Arial, sans-serif" font-size="5.2" font-weight="bold" fill="#ffffff" text-anchor="start" >All</text>
<polyline points="434.71,738.75 437.21,741.25 439.71,738.75" fill="none" stroke="#ffffff" stroke-width="0.57" stroke-linecap="round" stroke-linejoin="round"/>
<text x="390" y="730.5" font-family="'Liberation Sans', Arial, sans-serif" font-size="5.2" font-weight="bold" fill="#1e1e1e" text-anchor="start" >Rating Change</text>
<polyline points="436.2,727.1 438,728.9 439.8,727.1" fill="none" stroke="#a9aeb0" stroke-width="0.45" stroke-linecap="round" stroke-linejoin="round"/>
<rect x="460" y="735.3" width="53" height="8.7" fill="#566163" />
<text x="462.26" y="741.83" font-family="'Liberation Sans', Arial, sans-serif" font-size="5.2" font-weight="bold" fill="#ffffff" text-anchor="start" >All</text>
<polyline points="505.71,738.75 508.21,741.25 510.71,738.75" fill="none" stroke="#ffffff" stroke-width="0.57" stroke-linecap="round" stroke-linejoin="round"/>
<text x="461" y="730.5" font-family="'Liberation Sans', Arial, sans-serif" font-size="5.2" font-weight="bold" fill="#1e1e1e" text-anchor="start" >Rating Type</text>
<polyline points="507.2,727.1 509,728.9 510.8,727.1" fill="none" stroke="#a9aeb0" stroke-width="0.45" stroke-linecap="round" stroke-linejoin="round"/>
<rect x="89.2" y="761.2" width="173.8" height="120.3" fill="#d5d9da" />
<rect x="88" y="760" width="173" height="119.5" fill="#ffffff" />
<text x="175" y="767.5" font-family="'Liberation Sans', Arial, sans-serif" font-size="5.6" font-weight="bold" fill="#1e1e1e" text-anchor="middle" textLength="88" lengthAdjust="spacingAndGlyphs" >Exposure Amount USD by Agency</text>
<path d="M175,781.9 A35,35 0 0 1 203.09,837.77 L191.86,829.42 A21,21 0 0 0 175,795.9 Z" fill="#bcbcbc"/>
<path d="M203.09,837.77 A35,35 0 0 1 143.06,831.22 L155.84,825.49 A21,21 0 0 0 191.86,829.42 Z" fill="#8b8b8b"/>
<path d="M143.06,831.22 A35,35 0 0 1 175,781.9 L175,795.9 A21,21 0 0 0 155.84,825.49 Z" fill="#5f6c6e"/>
<text x="95.7" y="797" font-family="'Liberation Sans', Arial, sans-serif" font-size="4.6" font-weight="bold" fill="#2a2a2a" text-anchor="start" textLength="39" lengthAdjust="spacingAndGlyphs" >$406.55K (31.71%)</text>
<text x="216.6" y="800.5" font-family="'Liberation Sans', Arial, sans-serif" font-size="4.6" font-weight="bold" fill="#2a2a2a" text-anchor="start" textLength="39" lengthAdjust="spacingAndGlyphs" >$450.88K (35.17%)</text>
<text x="124.4" y="857.3" font-family="'Liberation Sans', Arial, sans-serif" font-size="4.6" font-weight="bold" fill="#2a2a2a" text-anchor="start" textLength="39" lengthAdjust="spacingAndGlyphs" >$424.55K (33.12%)</text>
<polyline points="135.5,795.5 142,795.5" stroke="#b0b0b0" stroke-width="0.5"/>
<polyline points="209,799 215,799" stroke="#b0b0b0" stroke-width="0.5"/>
<text x="121" y="870" font-family="'Liberation Sans', Arial, sans-serif" font-size="4.6" font-weight="normal" fill="#2a2a2a" text-anchor="start" textLength="15" lengthAdjust="spacingAndGlyphs" >Agency</text>
<circle cx="141" cy="868.5" r="1.9" fill="#bcbcbc"/>
<text x="143.8" y="870" font-family="'Liberation Sans', Arial, sans-serif" font-size="4.6" font-weight="normal" fill="#2a2a2a" text-anchor="start" textLength="22" lengthAdjust="spacingAndGlyphs" >S&amp;P Global</text>
<circle cx="171" cy="868.5" r="1.9" fill="#8b8b8b"/>
<text x="173.8" y="870" font-family="'Liberation Sans', Arial, sans-serif" font-size="4.6" font-weight="normal" fill="#2a2a2a" text-anchor="start" textLength="17" lengthAdjust="spacingAndGlyphs" >Moody's</text>
<circle cx="196.5" cy="868.5" r="1.9" fill="#5f6c6e"/>
<text x="199.3" y="870" font-family="'Liberation Sans', Arial, sans-serif" font-size="4.6" font-weight="normal" fill="#2a2a2a" text-anchor="start" textLength="27" lengthAdjust="spacingAndGlyphs" >Fitch Ratings</text>
<rect x="265.7" y="761.2" width="256.3" height="120.3" fill="#d5d9da" />
<rect x="264.5" y="760" width="255.5" height="119.5" fill="#ffffff" />
<rect x="297" y="784.4" width="39" height="79.6" fill="#566264" />
<text x="297" y="870.5" font-family="'Liberation Sans', Arial, sans-serif" font-size="4.6" font-weight="bold" fill="#222" text-anchor="start" >Fitch Ratings</text>
<rect x="89.5" y="885.6" width="432.5" height="99.8" fill="#d5d9da" />
<rect x="88.3" y="884.4" width="431.7" height="99" fill="#ffffff" />
<text x="272" y="896" font-family="'Liberation Sans', Arial, sans-serif" font-size="5.6" font-weight="bold" fill="#1e1e1e" text-anchor="start" textLength="62" lengthAdjust="spacingAndGlyphs" >Revenue USD by Agency</text>
<path d="M152,905.3 L303.6,911 L455,917 L455,970 L152,970 Z" fill="#bfc6c5"/>
<path d="M152,905.3 L303.6,911 L455,917" fill="none" stroke="#606c6c" stroke-width="1.3" stroke-linejoin="round"/>
<circle cx="152" cy="905.3" r="2.6" fill="#606c6c"/>
<circle cx="303.6" cy="911" r="2.6" fill="#606c6c"/>
<circle cx="455" cy="917" r="2.6" fill="#606c6c"/>
<text x="152" y="915" font-family="'Liberation Sans', Arial, sans-serif" font-size="4.6" font-weight="bold" fill="#222" text-anchor="middle" >$680K</text>
<text x="303.6" y="921" font-family="'Liberation Sans', Arial, sans-serif" font-size="4.6" font-weight="bold" fill="#222" text-anchor="middle" >$675K</text>
<text x="152" y="976.5" font-family="'Liberation Sans', Arial, sans-serif" font-size="4.8" font-weight="bold" fill="#222" text-anchor="middle" >Moody's</text>
<text x="303.6" y="976.5" font-family="'Liberation Sans', Arial, sans-serif" font-size="4.8" font-weight="bold" fill="#222" text-anchor="middle" >S&amp;P Global</text>
</g>
<path d="M574,686 L574,1005.5 L1076,1005.5 L1076,686 A17,17 0 0 0 1059,669 L591,669 A17,17 0 0 0 574,686 Z" fill="#efe5e8"/>
<path d="M576,686 L576,1005 L1074,1005 L1074,686 A15,15 0 0 0 1059,671 L591,671 A15,15 0 0 0 576,686 Z" fill="#050a30"/>
<g clip-path="url(#cpR)">
<rect x="591" y="690" width="468" height="293" fill="#eef0f1" />
<rect x="591" y="690" width="468" height="26" fill="url(#hdr)" />
<text x="840" y="710" font-family="'Liberation Sans', Arial, sans-serif" font-size="15.5" font-weight="bold" fill="#ffffff" text-anchor="middle" textLength="122" lengthAdjust="spacingAndGlyphs" >Country Analysis</text>
<rect x="591" y="716" width="57" height="267" fill="#a9b2b5" />
<rect x="655.2" y="721.2" width="416.8" height="36.4" fill="#d5d9da" />
<rect x="654" y="720" width="416" height="35.6" fill="#ffffff" />
<rect x="666" y="735" width="53" height="9" fill="#566163" />
<text x="668.34" y="741.75" font-family="'Liberation Sans', Arial, sans-serif" font-size="5.2" font-weight="bold" fill="#ffffff" text-anchor="start" >All</text>
<polyline points="711.55,738.61 714.05,741.11 716.55,738.61" fill="none" stroke="#ffffff" stroke-width="0.58" stroke-linecap="round" stroke-linejoin="round"/>
<text x="667" y="730.5" font-family="'Liberation Sans', Arial, sans-serif" font-size="5.2" font-weight="bold" fill="#1e1e1e" text-anchor="start" >Year</text>
<polyline points="713.2,727.1 715,728.9 716.8,727.1" fill="none" stroke="#a9aeb0" stroke-width="0.45" stroke-linecap="round" stroke-linejoin="round"/>
<rect x="738" y="735" width="53" height="9" fill="#566163" />
<text x="740.34" y="741.75" font-family="'Liberation Sans', Arial, sans-serif" font-size="5.2" font-weight="bold" fill="#ffffff" text-anchor="start" >All</text>
<polyline points="783.55,738.61 786.05,741.11 788.55,738.61" fill="none" stroke="#ffffff" stroke-width="0.58" stroke-linecap="round" stroke-linejoin="round"/>
<text x="739" y="730.5" font-family="'Liberation Sans', Arial, sans-serif" font-size="5.2" font-weight="bold" fill="#1e1e1e" text-anchor="start" >Month Name</text>
<polyline points="785.2,727.1 787,728.9 788.8,727.1" fill="none" stroke="#a9aeb0" stroke-width="0.45" stroke-linecap="round" stroke-linejoin="round"/>
<rect x="809" y="734.7" width="52.4" height="9" fill="#566163" />
<text x="811.34" y="741.45" font-family="'Liberation Sans', Arial, sans-serif" font-size="5.2" font-weight="bold" fill="#ffffff" text-anchor="start" >All</text>
<polyline points="853.95,738.31 856.45,740.81 858.95,738.31" fill="none" stroke="#ffffff" stroke-width="0.58" stroke-linecap="round" stroke-linejoin="round"/>
<text x="810" y="730.2" font-family="'Liberation Sans', Arial, sans-serif" font-size="5.2" font-weight="bold" fill="#1e1e1e" text-anchor="start" >Agency</text>
<polyline points="855.6,726.8 857.4,728.6 859.2,726.8" fill="none" stroke="#a9aeb0" stroke-width="0.45" stroke-linecap="round" stroke-linejoin="round"/>
<rect x="881" y="734.7" width="52" height="9" fill="#566163" />
<text x="883.34" y="741.45" font-family="'Liberation Sans', Arial, sans-serif" font-size="5.2" font-weight="bold" fill="#ffffff" text-anchor="start" >All</text>
<polyline points="925.55,738.31 928.05,740.81 930.55,738.31" fill="none" stroke="#ffffff" stroke-width="0.58" stroke-linecap="round" stroke-linejoin="round"/>
<text x="882" y="730.2" font-family="'Liberation Sans', Arial, sans-serif" font-size="5.2" font-weight="bold" fill="#1e1e1e" text-anchor="start" >Credit Rating</text>
<polyline points="927.2,726.8 929,728.6 930.8,726.8" fill="none" stroke="#a9aeb0" stroke-width="0.45" stroke-linecap="round" stroke-linejoin="round"/>
<rect x="950.5" y="733.6" width="52.5" height="9" fill="#566163" />
<text x="952.84" y="740.35" font-family="'Liberation Sans', Arial, sans-serif" font-size="5.2" font-weight="bold" fill="#ffffff" text-anchor="start" >All</text>
<polyline points="995.55,737.21 998.05,739.71 1000.55,737.21" fill="none" stroke="#ffffff" stroke-width="0.58" stroke-linecap="round" stroke-linejoin="round"/>
<text x="951.5" y="728.8" font-family="'Liberation Sans', Arial, sans-serif" font-size="5.2" font-weight="bold" fill="#1e1e1e" text-anchor="start" >Rating Change</text>
<polyline points="997.2,725.4 999,727.2 1000.8,725.4" fill="none" stroke="#a9aeb0" stroke-width="0.45" stroke-linecap="round" stroke-linejoin="round"/>
<rect x="1021.7" y="735.5" width="52.3" height="9" fill="#566163" />
<text x="1024.04" y="742.25" font-family="'Liberation Sans', Arial, sans-serif" font-size="5.2" font-weight="bold" fill="#ffffff" text-anchor="start" >All</text>
<polyline points="1066.55,739.11 1069.05,741.61 1071.55,739.11" fill="none" stroke="#ffffff" stroke-width="0.58" stroke-linecap="round" stroke-linejoin="round"/>
<text x="1022.7" y="731.3" font-family="'Liberation Sans', Arial, sans-serif" font-size="5.2" font-weight="bold" fill="#1e1e1e" text-anchor="start" >Rating Type</text>
<rect x="655.2" y="761.7" width="170.8" height="118.3" fill="#d5d9da" />
<rect x="654" y="760.5" width="170" height="117.5" fill="#ffffff" />
<rect x="660" y="770" width="161" height="63" fill="#566264" />
<rect x="660" y="833.8" width="161" height="37.9" fill="#7f8888" />
<text x="793" y="776.5" font-family="'Liberation Sans', Arial, sans-serif" font-size="4.6" font-weight="bold" fill="#ffffff" text-anchor="start" >India</text>
<text x="792" y="831" font-family="'Liberation Sans', Arial, sans-serif" font-size="4.6" font-weight="bold" fill="#ffffff" text-anchor="start" >$151.32K</text>
<rect x="828.2" y="761.7" width="243.8" height="118.3" fill="#d5d9da" />
<rect x="827" y="760.5" width="243" height="117.5" fill="#ffffff" />
<text x="954.5" y="767.5" font-family="'Liberation Sans', Arial, sans-serif" font-size="5.6" font-weight="bold" fill="#1e1e1e" text-anchor="middle" textLength="64" lengthAdjust="spacingAndGlyphs" >Revenue USD by Country</text>
<rect x="844" y="782.5" width="22" height="80" fill="#566264" />
<text x="855" y="779" font-family="'Liberation Sans', Arial, sans-serif" font-size="4.5" font-weight="bold" fill="#222" text-anchor="middle" >$0.28M</text>
<text x="855" y="869" font-family="'Liberation Sans', Arial, sans-serif" font-size="4.6" font-weight="bold" fill="#222" text-anchor="middle" >France</text>
<rect x="872.3" y="784.4" width="22" height="78.1" fill="#566264" />
<text x="883.3" y="780.9" font-family="'Liberation Sans', Arial, sans-serif" font-size="4.5" font-weight="bold" fill="#222" text-anchor="middle" >$0.27M</text>
<text x="883.3" y="869" font-family="'Liberation Sans', Arial, sans-serif" font-size="4.6" font-weight="bold" fill="#222" text-anchor="middle" >Australia</text>
<rect x="900.6" y="784.4" width="22" height="78.1" fill="#566264" />
<text x="911.6" y="780.9" font-family="'Liberation Sans', Arial, sans-serif" font-size="4.5" font-weight="bold" fill="#222" text-anchor="middle" >$0.27M</text>
<text x="911.6" y="869" font-family="'Liberation Sans', Arial, sans-serif" font-size="4.6" font-weight="bold" fill="#222" text-anchor="middle" >Canada</text>
<rect x="928.9" y="789.2" width="22" height="73.3" fill="#566264" />
<text x="939.9" y="785.7" font-family="'Liberation Sans', Arial, sans-serif" font-size="4.5" font-weight="bold" fill="#222" text-anchor="middle" >$0.25M</text>
<text x="939.9" y="869" font-family="'Liberation Sans', Arial, sans-serif" font-size="4.6" font-weight="bold" fill="#222" text-anchor="middle" >UK</text>
<rect x="957.2" y="793.2" width="22" height="69.3" fill="#566264" />
<text x="968.2" y="789.7" font-family="'Liberation Sans', Arial, sans-serif" font-size="4.5" font-weight="bold" fill="#222" text-anchor="middle" >$0.24M</text>
<text x="968.2" y="869" font-family="'Liberation Sans', Arial, sans-serif" font-size="4.6" font-weight="bold" fill="#222" text-anchor="middle" >Japan</text>
<rect x="985.5" y="796" width="22" height="66.5" fill="#566264" />
<text x="996.5" y="792.5" font-family="'Liberation Sans', Arial, sans-serif" font-size="4.5" font-weight="bold" fill="#222" text-anchor="middle" >$0.23M</text>
<text x="996.5" y="869" font-family="'Liberation Sans', Arial, sans-serif" font-size="4.6" font-weight="bold" fill="#222" text-anchor="middle" >USA</text>
<rect x="1013.8" y="797.3" width="22" height="65.2" fill="#566264" />
<text x="1024.8" y="793.8" font-family="'Liberation Sans', Arial, sans-serif" font-size="4.5" font-weight="bold" fill="#222" text-anchor="middle" >$0.23M</text>
<text x="1024.8" y="869" font-family="'Liberation Sans', Arial, sans-serif" font-size="4.6" font-weight="bold" fill="#222" text-anchor="middle" >Germany</text>
<rect x="1042.1" y="798" width="22" height="64.5" fill="#566264" />
<text x="1053.1" y="794.5" font-family="'Liberation Sans', Arial, sans-serif" font-size="4.5" font-weight="bold" fill="#222" text-anchor="middle" >$0.22M</text>
<text x="1053.1" y="869" font-family="'Liberation Sans', Arial, sans-serif" font-size="4.6" font-weight="bold" fill="#222" text-anchor="middle" >India</text>
<rect x="655.2" y="882.2" width="416.8" height="98.8" fill="#d5d9da" />
<rect x="654" y="881" width="416" height="98" fill="#ffffff" />
<text x="838.7" y="894" font-family="'Liberation Sans', Arial, sans-serif" font-size="5.6" font-weight="bold" fill="#1e1e1e" text-anchor="start" textLength="55" lengthAdjust="spacingAndGlyphs" >Debt USD by Country</text>
<path d="M785.5,926.8 L839.3,932 L892.8,937 L946.6,941.6 L1000.4,950.6 L1054,958 L1054,967 L785.5,967 Z" fill="#bfc6c5"/>
<path d="M785.5,926.8 L839.3,932 L892.8,937 L946.6,941.6 L1000.4,950.6 L1054,958" fill="none" stroke="#606c6c" stroke-width="1.2" stroke-linejoin="round"/>
<circle cx="785.5" cy="926.8" r="2.6" fill="#606c6c"/>
<circle cx="839.3" cy="932" r="2.6" fill="#606c6c"/>
<circle cx="892.8" cy="937" r="2.6" fill="#606c6c"/>
<circle cx="946.6" cy="941.6" r="2.6" fill="#606c6c"/>
<circle cx="1000.4" cy="950.6" r="2.6" fill="#606c6c"/>
<circle cx="1054" cy="958" r="2.6" fill="#606c6c"/>
<text x="839.3" y="925.5" font-family="'Liberation Sans', Arial, sans-serif" font-size="4.5" font-weight="bold" fill="#222" text-anchor="middle" >$193K</text>
<text x="892.8" y="930.5" font-family="'Liberation Sans', Arial, sans-serif" font-size="4.5" font-weight="bold" fill="#222" text-anchor="middle" >$185K</text>
<text x="946.6" y="935.1" font-family="'Liberation Sans', Arial, sans-serif" font-size="4.5" font-weight="bold" fill="#222" text-anchor="middle" >$178K</text>
<text x="1000.4" y="944.1" font-family="'Liberation Sans', Arial, sans-serif" font-size="4.5" font-weight="bold" fill="#222" text-anchor="middle" >$165K</text>
<text x="1054" y="951.5" font-family="'Liberation Sans', Arial, sans-serif" font-size="4.5" font-weight="bold" fill="#222" text-anchor="middle" >$154K</text>
<text x="839.3" y="973" font-family="'Liberation Sans', Arial, sans-serif" font-size="4.6" font-weight="bold" fill="#222" text-anchor="middle" >India</text>
<text x="892.8" y="973" font-family="'Liberation Sans', Arial, sans-serif" font-size="4.6" font-weight="bold" fill="#222" text-anchor="middle" >Canada</text>
<text x="946.6" y="973" font-family="'Liberation Sans', Arial, sans-serif" font-size="4.6" font-weight="bold" fill="#222" text-anchor="middle" >UK</text>
<text x="1000.4" y="973" font-family="'Liberation Sans', Arial, sans-serif" font-size="4.6" font-weight="bold" fill="#222" text-anchor="middle" >USA</text>
<text x="1054" y="973" font-family="'Liberation Sans', Arial, sans-serif" font-size="4.6" font-weight="bold" fill="#222" text-anchor="middle" >Germany</text>
</g>
<path d="M262,1044 L846,1044 L846,1054 Q846,1059 841,1059 L267,1059 Q262,1059 262,1054 Z" fill="#e6d5d8"/>
<rect x="274" y="1059" width="560" height="2.5" fill="#582d35" />
<rect x="515.5" y="1042" width="77.5" height="10.5" fill="#6c3942" rx="5" />
<path d="M316,742 L316,1044.5 L792,1044.5 L792,742 A17,17 0 0 0 775,725 L333,725 A17,17 0 0 0 316,742 Z" fill="#efe5e8"/>
<path d="M318,742 L318,1044 L790,1044 L790,742 A15,15 0 0 0 775,727 L333,727 A15,15 0 0 0 318,742 Z" fill="#050a30"/>
<g clip-path="url(#cpC)">
<rect x="332" y="745" width="444.5" height="278" fill="#eef0f1" />
<rect x="332" y="745.6" width="444.5" height="24.1" fill="url(#hdr)" />
<text x="566" y="763.5" font-family="'Liberation Sans', Arial, sans-serif" font-size="14.5" font-weight="bold" fill="#ffffff" text-anchor="middle" textLength="104" lengthAdjust="spacingAndGlyphs" >Month Analysis</text>
<rect x="332" y="769.7" width="54" height="249.3" fill="#a9b2b5" />
<polygon points="292,781.8 376.8,781.8 381.8,786.8 381.8,803 292,803" fill="#a8b0b3" stroke="#8c929a" stroke-width="0.5" filter="url(#bshIs)"/>
<text x="335" y="795.2" font-family="'Liberation Sans', Arial, sans-serif" font-size="5" font-weight="bold" fill="#161616" text-anchor="start" textLength="19.34" lengthAdjust="spacingAndGlyphs" >Overview</text>
<polygon points="292,814.9 376.8,814.9 381.8,819.9 381.8,837.3 292,837.3" fill="#a8b0b3" stroke="#8c929a" stroke-width="0.5" filter="url(#bshIs)"/>
<text x="362.7" y="828.9" font-family="'Liberation Sans', Arial, sans-serif" font-size="5" font-weight="bold" fill="#161616" text-anchor="end" textLength="34.65" lengthAdjust="spacingAndGlyphs" >Agency Analysis</text>
<polygon points="292,848.4 376.8,848.4 381.8,853.4 381.8,870.4 292,870.4" fill="#a8b0b3" stroke="#8c929a" stroke-width="0.5" filter="url(#bshIs)"/>
<text x="363.9" y="862.2" font-family="'Liberation Sans', Arial, sans-serif" font-size="5" font-weight="bold" fill="#161616" text-anchor="end" textLength="36.1" lengthAdjust="spacingAndGlyphs" >Industry Analysis</text>
<polygon points="292,881 376.8,881 381.8,886 381.8,903.4 292,903.4" fill="#a8b0b3" stroke="#8c929a" stroke-width="0.5" filter="url(#bshIs)"/>
<text x="363.4" y="895" font-family="'Liberation Sans', Arial, sans-serif" font-size="5" font-weight="bold" fill="#161616" text-anchor="end" textLength="35.61" lengthAdjust="spacingAndGlyphs" >Country Analysis</text>
<polygon points="292,914 376.8,914 381.8,919 381.8,936.5 292,936.5" fill="#e8e8ea" stroke="#9a9fb0" stroke-width="0.5" filter="url(#bshAs)"/>
<text x="363.9" y="928.05" font-family="'Liberation Sans', Arial, sans-serif" font-size="5" font-weight="bold" fill="#161616" text-anchor="end" textLength="31.98" lengthAdjust="spacingAndGlyphs" >Month Analysis</text>
<circle cx="342.6" cy="955.4" r="7.5" fill="#d1212b" stroke="#e98a8f" stroke-width="0.45"/>
<text x="342.6" y="954.5" font-family="'Liberation Sans', Arial, sans-serif" font-size="3.9" font-weight="bold" fill="#ffffff" text-anchor="middle" textLength="6.38" lengthAdjust="spacingAndGlyphs" >You</text>
<rect x="338.25" y="955.4" width="8.7" height="4.5" fill="#ffffff" rx="0.9" />
<text x="342.6" y="959.15" font-family="'Liberation Sans', Arial, sans-serif" font-size="3.75" font-weight="bold" fill="#c0202a" text-anchor="middle" textLength="7.5" lengthAdjust="spacingAndGlyphs" >Tube</text>
<rect x="336.3" y="973.5" width="14.1" height="14" fill="#2f8cbd" rx="1.97" />
<circle cx="339.68" cy="976.88" r="1.2" fill="#ffffff"/>
<rect x="338.63" y="978.86" width="2.11" height="6.2" fill="#ffffff" />
<path d="M341.66,985.06 L341.66,978.86 L343.63,978.86 L343.63,979.85 Q344.76,978.58 346.17,978.72 L348.14,979.14 L348.14,985.06 L346.03,985.06 L346.03,981.4 Q346.03,980.27 344.76,980.41 L343.77,981.4 Z" fill="#ffffff"/>
<rect x="341.66" y="980.55" width="2.11" height="4.51" fill="#ffffff" />
<circle cx="342.6" cy="1006" r="7" fill="#9a9ea0" stroke="#7b8083" stroke-width="0.84"/>
<circle cx="342.6" cy="1006" r="4.9" fill="none" stroke="#e8e8e8" stroke-width="0.7"/>
<line x1="338.05" y1="1003.55" x2="347.15" y2="1003.55" stroke="#e8e8e8" stroke-width="0.7"/>
<line x1="338.05" y1="1006" x2="347.15" y2="1006" stroke="#e8e8e8" stroke-width="0.7"/>
<line x1="338.05" y1="1008.45" x2="347.15" y2="1008.45" stroke="#e8e8e8" stroke-width="0.7"/>
<rect x="393.2" y="772.2" width="398.8" height="35.8" fill="#d5d9da" />
<rect x="392" y="771" width="398" height="35" fill="#ffffff" />
<rect x="403.9" y="787" width="48.1" height="8" fill="#566163" />
<text x="405.98" y="793" font-family="'Liberation Sans', Arial, sans-serif" font-size="4.9" font-weight="bold" fill="#ffffff" text-anchor="start" >All</text>
<polyline points="445.35,790.2 447.6,792.45 449.85,790.2" fill="none" stroke="#ffffff" stroke-width="0.52" stroke-linecap="round" stroke-linejoin="round"/>
<text x="404.4" y="782" font-family="'Liberation Sans', Arial, sans-serif" font-size="4.9" font-weight="bold" fill="#1e1e1e" text-anchor="start" >Year</text>
<polyline points="445.35,778.67 447,780.33 448.65,778.67" fill="none" stroke="#a9aeb0" stroke-width="0.45" stroke-linecap="round" stroke-linejoin="round"/>
<rect x="469.2" y="787" width="48.4" height="8" fill="#566163" />
<text x="471.28" y="793" font-family="'Liberation Sans', Arial, sans-serif" font-size="4.9" font-weight="bold" fill="#ffffff" text-anchor="start" >All</text>
<polyline points="510.95,790.2 513.2,792.45 515.45,790.2" fill="none" stroke="#ffffff" stroke-width="0.52" stroke-linecap="round" stroke-linejoin="round"/>
<text x="469.7" y="782" font-family="'Liberation Sans', Arial, sans-serif" font-size="4.9" font-weight="bold" fill="#1e1e1e" text-anchor="start" >Month Name</text>
<polyline points="510.95,778.67 512.6,780.33 514.25,778.67" fill="none" stroke="#a9aeb0" stroke-width="0.45" stroke-linecap="round" stroke-linejoin="round"/>
<rect x="537" y="787" width="48.3" height="8" fill="#566163" />
<text x="539.08" y="793" font-family="'Liberation Sans', Arial, sans-serif" font-size="4.9" font-weight="bold" fill="#ffffff" text-anchor="start" >All</text>
<polyline points="578.65,790.2 580.9,792.45 583.15,790.2" fill="none" stroke="#ffffff" stroke-width="0.52" stroke-linecap="round" stroke-linejoin="round"/>
<text x="537.5" y="782" font-family="'Liberation Sans', Arial, sans-serif" font-size="4.9" font-weight="bold" fill="#1e1e1e" text-anchor="start" >Agency</text>
<polyline points="578.65,778.67 580.3,780.33 581.95,778.67" fill="none" stroke="#a9aeb0" stroke-width="0.45" stroke-linecap="round" stroke-linejoin="round"/>
<rect x="603" y="787" width="48.5" height="8" fill="#566163" />
<text x="605.08" y="793" font-family="'Liberation Sans', Arial, sans-serif" font-size="4.9" font-weight="bold" fill="#ffffff" text-anchor="start" >All</text>
<polyline points="644.85,790.2 647.1,792.45 649.35,790.2" fill="none" stroke="#ffffff" stroke-width="0.52" stroke-linecap="round" stroke-linejoin="round"/>
<text x="603.7" y="782" font-family="'Liberation Sans', Arial, sans-serif" font-size="4.9" font-weight="bold" fill="#1e1e1e" text-anchor="start" >Credit Rating</text>
<polyline points="644.85,778.67 646.5,780.33 648.15,778.67" fill="none" stroke="#a9aeb0" stroke-width="0.45" stroke-linecap="round" stroke-linejoin="round"/>
<rect x="668" y="786" width="48" height="8" fill="#566163" />
<text x="670.08" y="792" font-family="'Liberation Sans', Arial, sans-serif" font-size="4.9" font-weight="bold" fill="#ffffff" text-anchor="start" >All</text>
<polyline points="709.35,789.2 711.6,791.45 713.85,789.2" fill="none" stroke="#ffffff" stroke-width="0.52" stroke-linecap="round" stroke-linejoin="round"/>
<text x="668.7" y="781" font-family="'Liberation Sans', Arial, sans-serif" font-size="4.9" font-weight="bold" fill="#1e1e1e" text-anchor="start" >Rating Change</text>
<polyline points="709.35,777.67 711,779.33 712.65,777.67" fill="none" stroke="#a9aeb0" stroke-width="0.45" stroke-linecap="round" stroke-linejoin="round"/>
<rect x="734" y="788" width="48" height="8" fill="#566163" />
<text x="736.08" y="794" font-family="'Liberation Sans', Arial, sans-serif" font-size="4.9" font-weight="bold" fill="#ffffff" text-anchor="start" >All</text>
<polyline points="775.35,791.2 777.6,793.45 779.85,791.2" fill="none" stroke="#ffffff" stroke-width="0.52" stroke-linecap="round" stroke-linejoin="round"/>
<text x="734.4" y="783.3" font-family="'Liberation Sans', Arial, sans-serif" font-size="4.9" font-weight="bold" fill="#1e1e1e" text-anchor="start" >Rating Type</text>
<rect x="393.2" y="811.2" width="159.8" height="111.3" fill="#d5d9da" />
<rect x="392" y="810" width="159" height="110.5" fill="#ffffff" />
<text x="472" y="816.5" font-family="'Liberation Sans', Arial, sans-serif" font-size="5.2" font-weight="bold" fill="#1e1e1e" text-anchor="middle" textLength="94" lengthAdjust="spacingAndGlyphs" >Exposure Amount USD by Month Name</text>
<rect x="400.2" y="843.4" width="9.7" height="61.6" fill="#6a7272" />
<text x="405.05" y="840.9" font-family="'Liberation Sans', Arial, sans-serif" font-size="3.9" font-weight="bold" fill="#222" text-anchor="middle" >$109K</text>
<text x="405.05" y="911.3" font-family="'Liberation Sans', Arial, sans-serif" font-size="4.2" font-weight="bold" fill="#222" text-anchor="middle" >Jan</text>
<rect x="412.34" y="838.7" width="9.7" height="66.3" fill="#6a7272" />
<text x="417.19" y="836.2" font-family="'Liberation Sans', Arial, sans-serif" font-size="3.9" font-weight="bold" fill="#222" text-anchor="middle" >$117K</text>
<text x="417.19" y="911.3" font-family="'Liberation Sans', Arial, sans-serif" font-size="4.2" font-weight="bold" fill="#222" text-anchor="middle" >Feb</text>
<rect x="424.48" y="830.7" width="9.7" height="74.3" fill="#6a7272" />
<text x="429.33" y="828.2" font-family="'Liberation Sans', Arial, sans-serif" font-size="3.9" font-weight="bold" fill="#222" text-anchor="middle" >$131K</text>
<text x="429.33" y="911.3" font-family="'Liberation Sans', Arial, sans-serif" font-size="4.2" font-weight="bold" fill="#222" text-anchor="middle" >Mar</text>
<rect x="436.62" y="848.6" width="9.7" height="56.4" fill="#6a7272" />
<text x="441.47" y="846.1" font-family="'Liberation Sans', Arial, sans-serif" font-size="3.9" font-weight="bold" fill="#222" text-anchor="middle" >$100K</text>
<text x="441.47" y="911.3" font-family="'Liberation Sans', Arial, sans-serif" font-size="4.2" font-weight="bold" fill="#222" text-anchor="middle" >Apr</text>
<rect x="448.76" y="838.9" width="9.7" height="66.1" fill="#6a7272" />
<text x="453.61" y="836.4" font-family="'Liberation Sans', Arial, sans-serif" font-size="3.9" font-weight="bold" fill="#222" text-anchor="middle" >$117K</text>
<text x="453.61" y="911.3" font-family="'Liberation Sans', Arial, sans-serif" font-size="4.2" font-weight="bold" fill="#222" text-anchor="middle" >May</text>
<rect x="460.9" y="847.8" width="9.7" height="57.2" fill="#6a7272" />
<text x="465.75" y="845.3" font-family="'Liberation Sans', Arial, sans-serif" font-size="3.9" font-weight="bold" fill="#222" text-anchor="middle" >$102K</text>
<text x="465.75" y="911.3" font-family="'Liberation Sans', Arial, sans-serif" font-size="4.2" font-weight="bold" fill="#222" text-anchor="middle" >Jun</text>
<rect x="473.04" y="849" width="9.7" height="56" fill="#6a7272" />
<text x="477.89" y="846.5" font-family="'Liberation Sans', Arial, sans-serif" font-size="3.9" font-weight="bold" fill="#222" text-anchor="middle" >$99K</text>
<text x="477.89" y="911.3" font-family="'Liberation Sans', Arial, sans-serif" font-size="4.2" font-weight="bold" fill="#222" text-anchor="middle" >Jul</text>
<rect x="485.18" y="847" width="9.7" height="58" fill="#6a7272" />
<text x="490.03" y="844.5" font-family="'Liberation Sans', Arial, sans-serif" font-size="3.9" font-weight="bold" fill="#222" text-anchor="middle" >$103K</text>
<text x="490.03" y="911.3" font-family="'Liberation Sans', Arial, sans-serif" font-size="4.2" font-weight="bold" fill="#222" text-anchor="middle" >Aug</text>
<rect x="497.32" y="841.4" width="9.7" height="63.6" fill="#6a7272" />
<text x="502.17" y="838.9" font-family="'Liberation Sans', Arial, sans-serif" font-size="3.9" font-weight="bold" fill="#222" text-anchor="middle" >$113K</text>
<text x="502.17" y="911.3" font-family="'Liberation Sans', Arial, sans-serif" font-size="4.2" font-weight="bold" fill="#222" text-anchor="middle" >Sep</text>
<rect x="509.46" y="839.5" width="9.7" height="65.5" fill="#6a7272" />
<text x="514.31" y="837" font-family="'Liberation Sans', Arial, sans-serif" font-size="3.9" font-weight="bold" fill="#222" text-anchor="middle" >$116K</text>
<text x="514.31" y="911.3" font-family="'Liberation Sans', Arial, sans-serif" font-size="4.2" font-weight="bold" fill="#222" text-anchor="middle" >Oct</text>
<rect x="521.6" y="849.4" width="9.7" height="55.6" fill="#6a7272" />
<text x="526.45" y="846.9" font-family="'Liberation Sans', Arial, sans-serif" font-size="3.9" font-weight="bold" fill="#222" text-anchor="middle" >$98K</text>
<text x="526.45" y="911.3" font-family="'Liberation Sans', Arial, sans-serif" font-size="4.2" font-weight="bold" fill="#222" text-anchor="middle" >Nov</text>
<rect x="533.74" y="862" width="9.7" height="43" fill="#6a7272" />
<text x="538.59" y="859.5" font-family="'Liberation Sans', Arial, sans-serif" font-size="3.9" font-weight="bold" fill="#222" text-anchor="middle" >$76K</text>
<text x="538.59" y="911.3" font-family="'Liberation Sans', Arial, sans-serif" font-size="4.2" font-weight="bold" fill="#222" text-anchor="middle" >Dec</text>
<rect x="555.2" y="810.8" width="236.8" height="111.5" fill="#d5d9da" />
<rect x="554" y="809.6" width="236" height="110.7" fill="#ffffff" />
<text x="671.4" y="816.5" font-family="'Liberation Sans', Arial, sans-serif" font-size="5.2" font-weight="bold" fill="#1e1e1e" text-anchor="middle" textLength="72" lengthAdjust="spacingAndGlyphs" >Revenue USD by Month Name</text>
<path d="M566,861.8 C569.18,863.13 578.72,875.42 585.1,869.8 C591.48,864.18 597.9,829.33 604.3,828.1 C610.7,826.87 617.12,856.15 623.5,862.4 C629.88,868.65 636.22,866.42 642.6,865.6 C648.98,864.78 655.4,857.43 661.8,857.5 C668.2,857.57 674.62,863.98 681,866 C687.38,868.02 693.78,864.2 700.1,869.6 C706.42,875 712.58,901.98 718.9,898.4 C725.22,894.82 731.65,851.47 738,848.1 C744.35,844.73 750.67,870.88 757,878.2 C763.33,885.52 772.83,889.7 776,892" fill="none" stroke="#606c6c" stroke-width="1.3" stroke-linejoin="round"/>
<circle cx="566" cy="861.8" r="2.6" fill="#606c6c"/>
<circle cx="585.1" cy="869.8" r="2.6" fill="#606c6c"/>
<circle cx="604.3" cy="828.1" r="2.6" fill="#606c6c"/>
<circle cx="623.5" cy="862.4" r="2.6" fill="#606c6c"/>
<circle cx="642.6" cy="865.6" r="2.6" fill="#606c6c"/>
<circle cx="661.8" cy="857.5" r="2.6" fill="#606c6c"/>
<circle cx="681" cy="866" r="2.6" fill="#606c6c"/>
<circle cx="700.1" cy="869.6" r="2.6" fill="#606c6c"/>
<circle cx="718.9" cy="898.4" r="2.6" fill="#606c6c"/>
<circle cx="738" cy="848.1" r="2.6" fill="#606c6c"/>
<circle cx="757" cy="878.2" r="2.6" fill="#606c6c"/>
<circle cx="776" cy="892" r="2.6" fill="#606c6c"/>
<text x="566" y="855.8" font-family="'Liberation Sans', Arial, sans-serif" font-size="3.9" font-weight="bold" fill="#222" text-anchor="middle" >$174K</text>
<text x="585.1" y="878.8" font-family="'Liberation Sans', Arial, sans-serif" font-size="3.9" font-weight="bold" fill="#222" text-anchor="middle" >$160K</text>
<text x="604.3" y="836.1" font-family="'Liberation Sans', Arial, sans-serif" font-size="3.9" font-weight="bold" fill="#222" text-anchor="middle" >$231K</text>
<text x="624.5" y="856.4" font-family="'Liberation Sans', Arial, sans-serif" font-size="3.9" font-weight="bold" fill="#222" text-anchor="middle" >$173K</text>
<text x="642.6" y="874.6" font-family="'Liberation Sans', Arial, sans-serif" font-size="3.9" font-weight="bold" fill="#222" text-anchor="middle" >$168K</text>
<text x="661.8" y="851.5" font-family="'Liberation Sans', Arial, sans-serif" font-size="3.9" font-weight="bold" fill="#222" text-anchor="middle" >$181K</text>
<text x="681" y="860" font-family="'Liberation Sans', Arial, sans-serif" font-size="3.9" font-weight="bold" fill="#222" text-anchor="middle" >$167K</text>
<text x="700.1" y="863.6" font-family="'Liberation Sans', Arial, sans-serif" font-size="3.9" font-weight="bold" fill="#222" text-anchor="middle" >$160K</text>
<text x="718.9" y="892.4" font-family="'Liberation Sans', Arial, sans-serif" font-size="3.9" font-weight="bold" fill="#222" text-anchor="middle" >$152K</text>
<text x="738" y="842.1" font-family="'Liberation Sans', Arial, sans-serif" font-size="3.9" font-weight="bold" fill="#222" text-anchor="middle" >$197K</text>
<text x="757" y="872.2" font-family="'Liberation Sans', Arial, sans-serif" font-size="3.9" font-weight="bold" fill="#222" text-anchor="middle" >$147K</text>
<text x="776" y="901" font-family="'Liberation Sans', Arial, sans-serif" font-size="3.9" font-weight="bold" fill="#222" text-anchor="middle" >$139K</text>
<text x="566" y="911" font-family="'Liberation Sans', Arial, sans-serif" font-size="4.2" font-weight="bold" fill="#222" text-anchor="middle" >Jan</text>
<text x="585.1" y="911" font-family="'Liberation Sans', Arial, sans-serif" font-size="4.2" font-weight="bold" fill="#222" text-anchor="middle" >Feb</text>
<text x="604.3" y="911" font-family="'Liberation Sans', Arial, sans-serif" font-size="4.2" font-weight="bold" fill="#222" text-anchor="middle" >Mar</text>
<text x="623.5" y="911" font-family="'Liberation Sans', Arial, sans-serif" font-size="4.2" font-weight="bold" fill="#222" text-anchor="middle" >Apr</text>
<text x="642.6" y="911" font-family="'Liberation Sans', Arial, sans-serif" font-size="4.2" font-weight="bold" fill="#222" text-anchor="middle" >May</text>
<text x="661.8" y="911" font-family="'Liberation Sans', Arial, sans-serif" font-size="4.2" font-weight="bold" fill="#222" text-anchor="middle" >Jun</text>
<text x="681" y="911" font-family="'Liberation Sans', Arial, sans-serif" font-size="4.2" font-weight="bold" fill="#222" text-anchor="middle" >Jul</text>
<text x="700.1" y="911" font-family="'Liberation Sans', Arial, sans-serif" font-size="4.2" font-weight="bold" fill="#222" text-anchor="middle" >Aug</text>
<text x="718.9" y="911" font-family="'Liberation Sans', Arial, sans-serif" font-size="4.2" font-weight="bold" fill="#222" text-anchor="middle" >Sep</text>
<text x="738" y="911" font-family="'Liberation Sans', Arial, sans-serif" font-size="4.2" font-weight="bold" fill="#222" text-anchor="middle" >Oct</text>
<text x="757" y="911" font-family="'Liberation Sans', Arial, sans-serif" font-size="4.2" font-weight="bold" fill="#222" text-anchor="middle" >Nov</text>
<text x="776" y="911" font-family="'Liberation Sans', Arial, sans-serif" font-size="4.2" font-weight="bold" fill="#222" text-anchor="middle" >Dec</text>
<rect x="391.8" y="923.6" width="400.2" height="92.7" fill="#d5d9da" />
<rect x="390.6" y="922.4" width="399.4" height="91.9" fill="#ffffff" />
<text x="589.8" y="934.2" font-family="'Liberation Sans', Arial, sans-serif" font-size="5.2" font-weight="bold" fill="#1e1e1e" text-anchor="middle" textLength="64" lengthAdjust="spacingAndGlyphs" >Debt USD by Month Name</text>
<path d="M408.3,967.6 C413.8,969.33 430.3,981.65 441.3,978 C452.3,974.35 463.32,947.98 474.3,945.7 C485.28,943.42 496.22,960.15 507.2,964.3 C518.18,968.45 529.22,967.22 540.2,970.6 C551.18,973.98 562.12,984.05 573.1,984.6 C584.08,985.15 595.12,974.52 606.1,973.9 C617.08,973.28 628.02,981.77 639,980.9 C649.98,980.03 661,970.12 672,968.7 C683,967.28 694,968.88 705,972.4 C716,975.92 727,985.97 738,989.8 C749,993.63 765.5,994.47 771,995.4 L771,1001 L408.3,1001 Z" fill="#bfc6c5"/>
<path d="M408.3,967.6 C413.8,969.33 430.3,981.65 441.3,978 C452.3,974.35 463.32,947.98 474.3,945.7 C485.28,943.42 496.22,960.15 507.2,964.3 C518.18,968.45 529.22,967.22 540.2,970.6 C551.18,973.98 562.12,984.05 573.1,984.6 C584.08,985.15 595.12,974.52 606.1,973.9 C617.08,973.28 628.02,981.77 639,980.9 C649.98,980.03 661,970.12 672,968.7 C683,967.28 694,968.88 705,972.4 C716,975.92 727,985.97 738,989.8 C749,993.63 765.5,994.47 771,995.4" fill="none" stroke="#606c6c" stroke-width="1.2" stroke-linejoin="round"/>
<circle cx="408.3" cy="967.6" r="2.4" fill="#606c6c"/>
<circle cx="441.3" cy="978" r="2.4" fill="#606c6c"/>
<circle cx="474.3" cy="945.7" r="2.4" fill="#606c6c"/>
<circle cx="507.2" cy="964.3" r="2.4" fill="#606c6c"/>
<circle cx="540.2" cy="970.6" r="2.4" fill="#606c6c"/>
<circle cx="573.1" cy="984.6" r="2.4" fill="#606c6c"/>
<circle cx="606.1" cy="973.9" r="2.4" fill="#606c6c"/>
<circle cx="639" cy="980.9" r="2.4" fill="#606c6c"/>
<circle cx="672" cy="968.7" r="2.4" fill="#606c6c"/>
<circle cx="705" cy="972.4" r="2.4" fill="#606c6c"/>
<circle cx="738" cy="989.8" r="2.4" fill="#606c6c"/>
<circle cx="771" cy="995.4" r="2.4" fill="#606c6c"/>
<text x="408.3" y="961.6" font-family="'Liberation Sans', Arial, sans-serif" font-size="3.7" font-weight="bold" fill="#222" text-anchor="middle" >$136K</text>
<text x="441.3" y="986" font-family="'Liberation Sans', Arial, sans-serif" font-size="3.7" font-weight="bold" fill="#222" text-anchor="middle" >$119K</text>
<text x="474.3" y="953.7" font-family="'Liberation Sans', Arial, sans-serif" font-size="3.7" font-weight="bold" fill="#222" text-anchor="middle" >$171K</text>
<text x="507.2" y="958.3" font-family="'Liberation Sans', Arial, sans-serif" font-size="3.7" font-weight="bold" fill="#222" text-anchor="middle" >$142K</text>
<text x="540.2" y="964.6" font-family="'Liberation Sans', Arial, sans-serif" font-size="3.7" font-weight="bold" fill="#222" text-anchor="middle" >$131K</text>
<text x="573.1" y="992.6" font-family="'Liberation Sans', Arial, sans-serif" font-size="3.7" font-weight="bold" fill="#222" text-anchor="middle" >$108K</text>
<text x="606.1" y="967.9" font-family="'Liberation Sans', Arial, sans-serif" font-size="3.7" font-weight="bold" fill="#222" text-anchor="middle" >$123K</text>
<text x="639" y="988.9" font-family="'Liberation Sans', Arial, sans-serif" font-size="3.7" font-weight="bold" fill="#222" text-anchor="middle" >$114K</text>
<text x="672" y="962.7" font-family="'Liberation Sans', Arial, sans-serif" font-size="3.7" font-weight="bold" fill="#222" text-anchor="middle" >$134K</text>
<text x="705" y="966.4" font-family="'Liberation Sans', Arial, sans-serif" font-size="3.7" font-weight="bold" fill="#222" text-anchor="middle" >$128K</text>
<text x="738" y="983.8" font-family="'Liberation Sans', Arial, sans-serif" font-size="3.7" font-weight="bold" fill="#222" text-anchor="middle" >$100K</text>
<text x="771" y="989.4" font-family="'Liberation Sans', Arial, sans-serif" font-size="3.7" font-weight="bold" fill="#222" text-anchor="middle" >$91K</text>
<text x="408.3" y="1007" font-family="'Liberation Sans', Arial, sans-serif" font-size="4" font-weight="bold" fill="#222" text-anchor="middle" >Jan</text>
<text x="441.3" y="1007" font-family="'Liberation Sans', Arial, sans-serif" font-size="4" font-weight="bold" fill="#222" text-anchor="middle" >Feb</text>
<text x="474.3" y="1007" font-family="'Liberation Sans', Arial, sans-serif" font-size="4" font-weight="bold" fill="#222" text-anchor="middle" >Mar</text>
<text x="507.2" y="1007" font-family="'Liberation Sans', Arial, sans-serif" font-size="4" font-weight="bold" fill="#222" text-anchor="middle" >Apr</text>
<text x="540.2" y="1007" font-family="'Liberation Sans', Arial, sans-serif" font-size="4" font-weight="bold" fill="#222" text-anchor="middle" >May</text>
<text x="573.1" y="1007" font-family="'Liberation Sans', Arial, sans-serif" font-size="4" font-weight="bold" fill="#222" text-anchor="middle" >Jun</text>
<text x="606.1" y="1007" font-family="'Liberation Sans', Arial, sans-serif" font-size="4" font-weight="bold" fill="#222" text-anchor="middle" >Jul</text>
<text x="639" y="1007" font-family="'Liberation Sans', Arial, sans-serif" font-size="4" font-weight="bold" fill="#222" text-anchor="middle" >Aug</text>
<text x="672" y="1007" font-family="'Liberation Sans', Arial, sans-serif" font-size="4" font-weight="bold" fill="#222" text-anchor="middle" >Sep</text>
<text x="705" y="1007" font-family="'Liberation Sans', Arial, sans-serif" font-size="4" font-weight="bold" fill="#222" text-anchor="middle" >Oct</text>
<text x="738" y="1007" font-family="'Liberation Sans', Arial, sans-serif" font-size="4" font-weight="bold" fill="#222" text-anchor="middle" >Nov</text>
<text x="771" y="1007" font-family="'Liberation Sans', Arial, sans-serif" font-size="4" font-weight="bold" fill="#222" text-anchor="middle" >Dec</text>
<rect x="332" y="1018.6" width="444.5" height="4.4" fill="#f6f7f8" />
<rect x="638.7" y="1020.3" width="18.3" height="2.2" fill="#3d7a78" />
</g>
</svg></body></html>
